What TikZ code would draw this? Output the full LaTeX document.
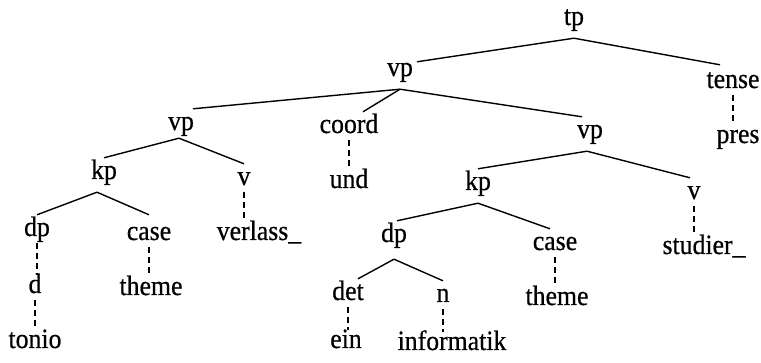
\documentclass[tikz,border=0pt]{standalone}
\usepackage{fontspec}
\setmainfont{Liberation Serif}
\newfontfamily\treefont[FakeStretch=0.92,FakeBold=0.6]{Liberation Serif}
\usetikzlibrary{calc}
\begin{document}
\begin{tikzpicture}[x=1pt,y=-1pt,
  lbl/.style={anchor=base,inner sep=0pt,text height=21pt,text depth=13pt,
              font=\treefont\fontsize{28}{32}\selectfont},
  branch/.style={line width=1.4pt},
  lexical/.style={line width=1.4pt,dash pattern=on 6pt off 4pt}]
\useasboundingbox (0,0) rectangle (761,363);

% categories and words (x = centre, y = baseline, measured downwards)
\node[lbl] (tp)     at (574,25)  {tp};
\node[lbl] (vpa)    at (400,76)  {vp};
\node[lbl] (tense)  at (733,88)  {tense};
\node[lbl] (pres)   at (738,143) {pres};
\node[lbl] (vpl)    at (181,130) {vp};
\node[lbl] (coord)  at (349,133) {coord};
\node[lbl] (und)    at (349,188) {und};
\node[lbl] (vpr)    at (590,138) {vp};
\node[lbl] (kpl)    at (104,179) {kp};
\node[lbl] (vl)     at (244,185) {v};
\node[lbl] (verl)   at (259,240) {verlass\_};
\node[lbl] (dpl)    at (37,236)  {dp};
\node[lbl] (casel)  at (149,240) {case};
\node[lbl] (d)      at (35,293)  {d};
\node[lbl] (themel) at (151,295) {theme};
\node[lbl] (tonio)  at (35,348)  {tonio};
\node[lbl] (kpr)    at (478,190) {kp};
\node[lbl] (vr)     at (694,199) {v};
\node[lbl] (stud)   at (704,254) {studier\_};
\node[lbl] (dpr)    at (394,242) {dp};
\node[lbl] (caser)  at (555,250) {case};
\node[lbl] (det)    at (348,300) {det};
\node[lbl] (n)      at (443,302) {n};
\node[lbl] (themer) at (557,305) {theme};
\node[lbl] (ein)    at (346,348) {ein};
\node[lbl] (inf)    at (452,350) {informatik};

% branches
\draw[branch] (tp.south) -- ([xshift=17pt,yshift=-7pt]vpa.north);
\draw[branch] (tp.south) -- ([xshift=-13pt,yshift=2pt]tense.north);
\draw[branch] (vpa.south) -- ([xshift=12pt]vpl.north);
\draw[branch] (vpa.south) -- ([xshift=14pt]coord.north);
\draw[branch] (vpa.south) -- ([xshift=-8pt]vpr.north);
\draw[branch] ([xshift=-2pt,yshift=5pt]vpl.south) -- (kpl.north);
\draw[branch] ([xshift=-2pt,yshift=5pt]vpl.south) -- (vl.north);
\draw[branch] ([xshift=-7pt]kpl.south) -- (dpl.north);
\draw[branch] ([xshift=-7pt]kpl.south) -- ([yshift=4pt]casel.north);
\draw[branch] ([xshift=-3pt]vpr.south) -- (kpr.north);
\draw[branch] ([xshift=-3pt]vpr.south) -- ([xshift=-4pt]vr.north);
\draw[branch] (kpr.south) -- ([xshift=3pt]dpr.north);
\draw[branch] (kpr.south) -- ([xshift=-5pt]caser.north);
\draw[branch] ([yshift=-4pt]dpr.south) -- ([xshift=10pt]det.north);
\draw[branch] ([yshift=-4pt]dpr.south) -- (n.north);

% lexical attachments
\foreach \p/\c in {tense/pres, coord/und, vl/verl, dpl/d, d/tonio, casel/themel,
                   vr/stud, caser/themer, det/ein, n/inf}
  \draw[lexical] ($(\p.south)+(0,-6)$) -- ($(\p.south |- \c.north)+(0,3)$);
\end{tikzpicture}
\end{document}
